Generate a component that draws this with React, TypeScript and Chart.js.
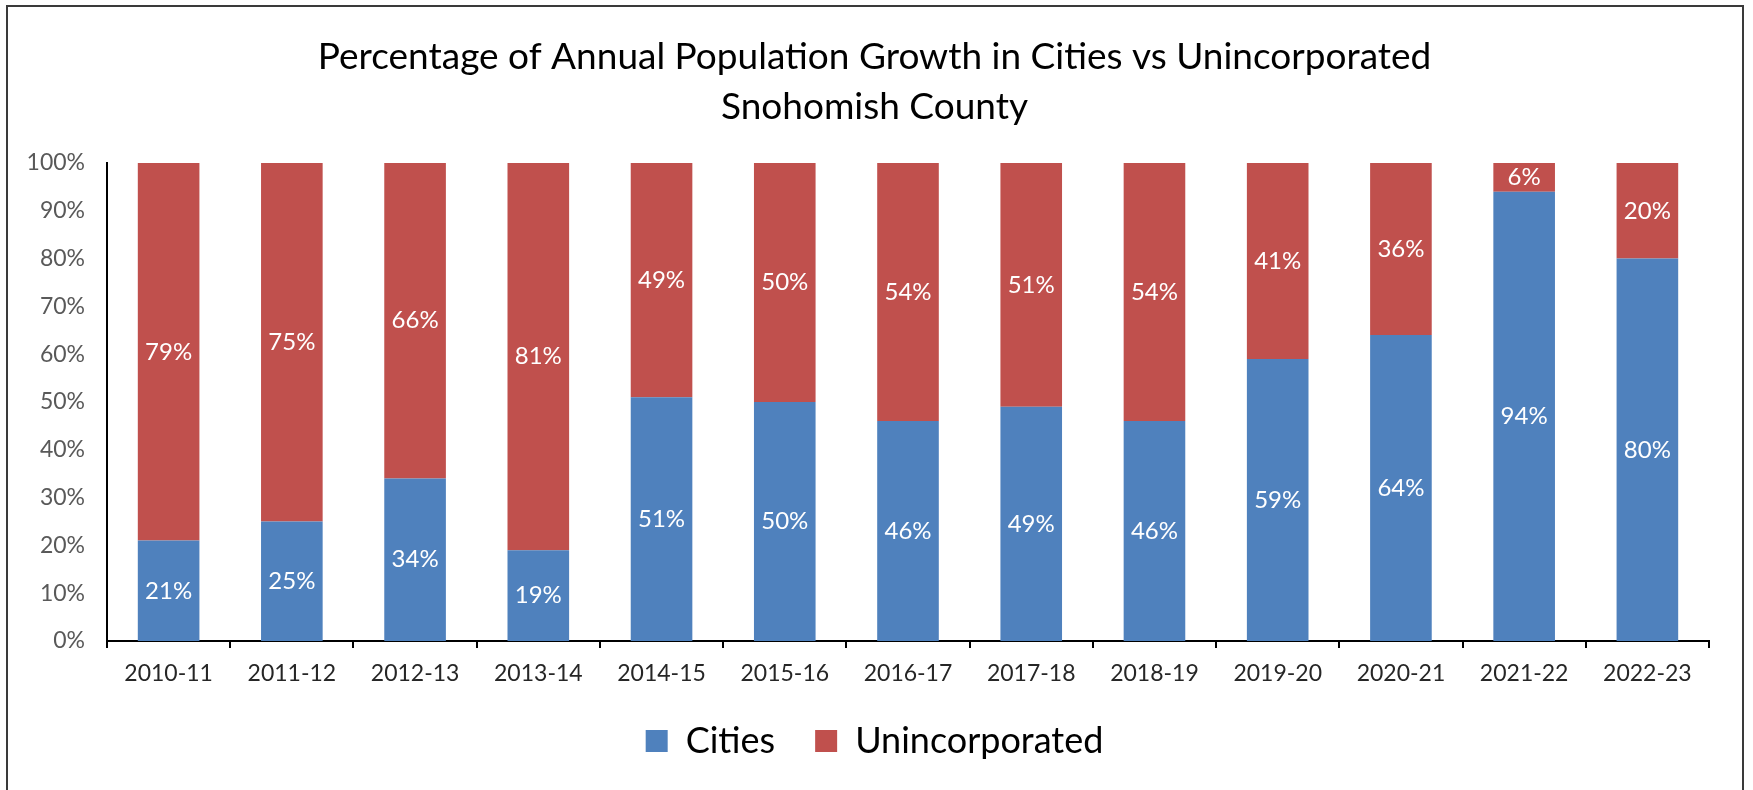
import React, { useEffect, useRef } from "react";
import { Chart, registerables } from "chart.js";

Chart.register(...registerables);

const categories = [
  "2010-11", "2011-12", "2012-13", "2013-14", "2014-15", "2015-16", "2016-17",
  "2017-18", "2018-19", "2019-20", "2020-21", "2021-22", "2022-23",
];
const citiesValues = [21, 25, 34, 19, 51, 50, 46, 49, 46, 59, 64, 94, 80];
const unincorporatedValues = [79, 75, 66, 81, 49, 50, 54, 51, 54, 41, 36, 6, 20];
const seriesNames = ["Cities", "Unincorporated"];
const titleLines = [
  "Percentage of Annual Population Growth in Cities vs Unincorporated",
  "Snohomish County",
];
const yMin = 0;
const yMax = 100;
const yStep = 10;

const FONT = "Lato, 'Open Sans', sans-serif";
const BLUE = "#4F81BD";
const RED = "#C0504D";

const framePlugin = {
  id: "frame",
  beforeDraw(chart: any) {
    // let the y tick labels extend left of the axis box without clipping
    if (chart.scales && chart.scales.y) chart.scales.y.left = 0;
  },
  afterDraw(chart: any) {
    const ctx = chart.ctx;
    ctx.save();
    ctx.strokeStyle = "#3a3a3a";
    ctx.lineWidth = 2;
    ctx.strokeRect(7, 6, 1736, 900);
    ctx.restore();
  },
};

const valueLabelPlugin = {
  id: "valueLabels",
  afterDatasetsDraw(chart: any) {
    const ctx = chart.ctx;
    ctx.save();
    ctx.font = `24px ${FONT}`;
    ctx.fillStyle = "#ffffff";
    ctx.textAlign = "center";
    ctx.textBaseline = "middle";
    chart.data.datasets.forEach((ds: any, di: number) => {
      const meta = chart.getDatasetMeta(di);
      meta.data.forEach((el: any, i: number) => {
        const v = ds.data[i];
        const y = (el.y + el.base) / 2;
        ctx.fillText(`${v}%`, el.x, y);
      });
    });
    ctx.restore();
  },
};

export default function App() {
  const canvasRef = useRef<HTMLCanvasElement | null>(null);

  useEffect(() => {
    const canvas = canvasRef.current;
    if (!canvas) return;
    const chart = new Chart(canvas, {
      type: "bar",
      data: {
        labels: categories,
        datasets: [
          {
            label: seriesNames[0],
            data: citiesValues,
            backgroundColor: BLUE,
            borderWidth: 0,
            barPercentage: 0.5,
            categoryPercentage: 1.0,
          },
          {
            label: seriesNames[1],
            data: unincorporatedValues,
            backgroundColor: RED,
            borderWidth: 0,
            barPercentage: 0.5,
            categoryPercentage: 1.0,
          },
        ],
      },
      options: {
        responsive: false,
        animation: false,
        devicePixelRatio: 1,
        layout: { padding: { left: 40, right: 44, top: 0, bottom: 21 } },
        plugins: {
          title: {
            display: true,
            text: titleLines,
            color: "#000000",
            font: { family: FONT, size: 37, weight: "normal", lineHeight: 50 / 37 },
            padding: { top: 32, bottom: 31 },
          },
          legend: {
            display: true,
            position: "bottom",
            labels: {
              color: "#000000",
              font: { family: FONT, size: 36 },
              boxWidth: 22,
              boxHeight: 22,
              padding: 40,
            },
          },
          tooltip: { enabled: false },
        },
        scales: {
          x: {
            stacked: true,
            grid: {
              display: true,
              drawOnChartArea: false,
              drawTicks: true,
              tickLength: 7,
              color: "#000000",
              lineWidth: 2,
              offset: true,
            },
            border: { display: true, color: "#000000", width: 2 },
            ticks: {
              color: "#262626",
              font: { family: FONT, size: 23 },
              padding: 12,
              maxRotation: 0,
              autoSkip: false,
            },
            afterFit(scale: any) {
              scale.height = 42;
            },
          },
          y: {
            stacked: true,
            min: yMin,
            max: yMax,
            grid: { display: false, drawTicks: false },
            border: { display: true, color: "#000000", width: 2 },
            ticks: {
              stepSize: yStep,
              color: "#595959",
              font: { family: FONT, size: 23 },
              padding: 22,
              callback: (v: any) => `${v}%`,
            },
            afterFit(scale: any) {
              scale.width = 67;
            },
          },
        },
      },
      plugins: [valueLabelPlugin, framePlugin],
    });
    return () => chart.destroy();
  }, []);

  return (
    <div style={{ position: "absolute", left: 0, top: 0, width: 1753, height: 790, background: "#ffffff" }}>
      <canvas ref={canvasRef} width={1753} height={790} style={{ display: "block" }} />
    </div>
  );
}
